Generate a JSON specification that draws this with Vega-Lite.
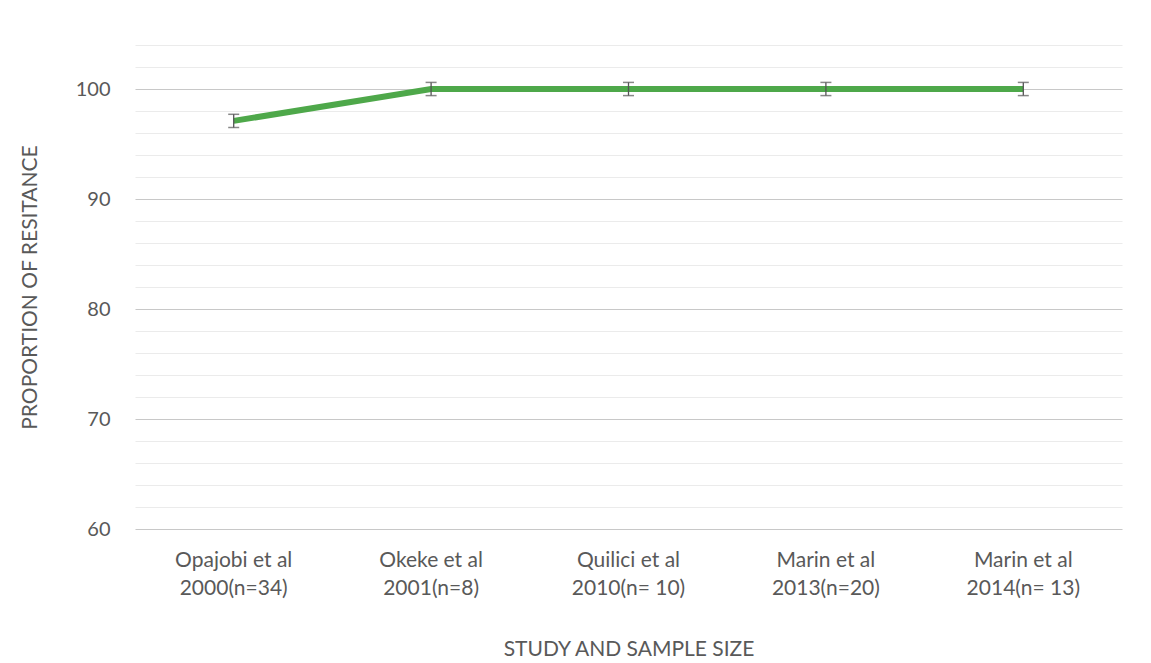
{
  "$schema": "https://vega.github.io/schema/vega-lite/v6.json",
  "width": 987,
  "height": 484,
  "autosize": {"type": "none"},
  "padding": {"left": 135, "top": 45, "right": 29, "bottom": 134},
  "background": "white",
  "config": {
    "view": {"stroke": null},
    "font": "Lato",
    "axis": {"labelFont": "Lato", "titleFont": "Lato", "labelColor": "#595959", "titleColor": "#595959", "titleFontWeight": "normal"}
  },
  "data": {
    "values": [
      {"study": "Opajobi et al|2000(n=34)", "value": 97.1, "lower": 96.5, "upper": 97.7},
      {"study": "Okeke et al|2001(n=8)", "value": 100, "lower": 99.4, "upper": 100.6},
      {"study": "Quilici et al|2010(n= 10)", "value": 100, "lower": 99.4, "upper": 100.6},
      {"study": "Marin et al|2013(n=20)", "value": 100, "lower": 99.4, "upper": 100.6},
      {"study": "Marin et al|2014(n= 13)", "value": 100, "lower": 99.4, "upper": 100.6}
    ]
  },
  "encoding": {
    "x": {
      "field": "study",
      "type": "nominal",
      "sort": null,
      "scale": {"paddingInner": 0, "paddingOuter": 0},
      "axis": {
        "title": "STUDY AND SAMPLE SIZE",
        "titleFontSize": 21,
        "titleBaseline": "middle",
        "titleY": 120,
        "labelAngle": 0,
        "labelFontSize": 21,
        "labelLineHeight": 28,
        "labelPadding": 20,
        "labelExpr": "split(datum.label, '|')",
        "labelOverlap": false,
        "ticks": false,
        "domain": false
      }
    }
  },
  "layer": [
    {
      "mark": {"type": "line", "color": "#4ea84a", "strokeWidth": 6},
      "encoding": {
        "y": {
          "field": "value",
          "type": "quantitative",
          "scale": {"domain": [60, 104], "nice": false, "zero": false},
          "axis": {
            "title": "PROPORTION OF RESITANCE",
            "titleFontSize": 21,
            "titleX": -105,
            "titleBaseline": "middle",
            "values": [60, 62, 64, 66, 68, 70, 72, 74, 76, 78, 80, 82, 84, 86, 88, 90, 92, 94, 96, 98, 100, 102, 104],
            "tickCount": 30,
            "labelExpr": "datum.value % 10 === 0 ? datum.label : ''",
            "labelOverlap": false,
            "labelFontSize": 20,
            "labelPadding": 25,
            "ticks": false,
            "domain": false,
            "grid": true,
            "gridColor": {"condition": {"test": "datum.value % 10 === 0", "value": "#c8c8c8"}, "value": "#ebebeb"},
            "gridWidth": 1.2
          }
        }
      }
    },
    {
      "mark": {"type": "rule", "color": "#555555", "strokeWidth": 1.3},
      "encoding": {
        "y": {"field": "lower", "type": "quantitative"},
        "y2": {"field": "upper"}
      }
    },
    {
      "mark": {"type": "tick", "color": "#555555", "size": 11, "thickness": 1.5},
      "encoding": {"y": {"field": "lower", "type": "quantitative"}}
    },
    {
      "mark": {"type": "tick", "color": "#555555", "size": 11, "thickness": 1.5},
      "encoding": {"y": {"field": "upper", "type": "quantitative"}}
    }
  ]
}
